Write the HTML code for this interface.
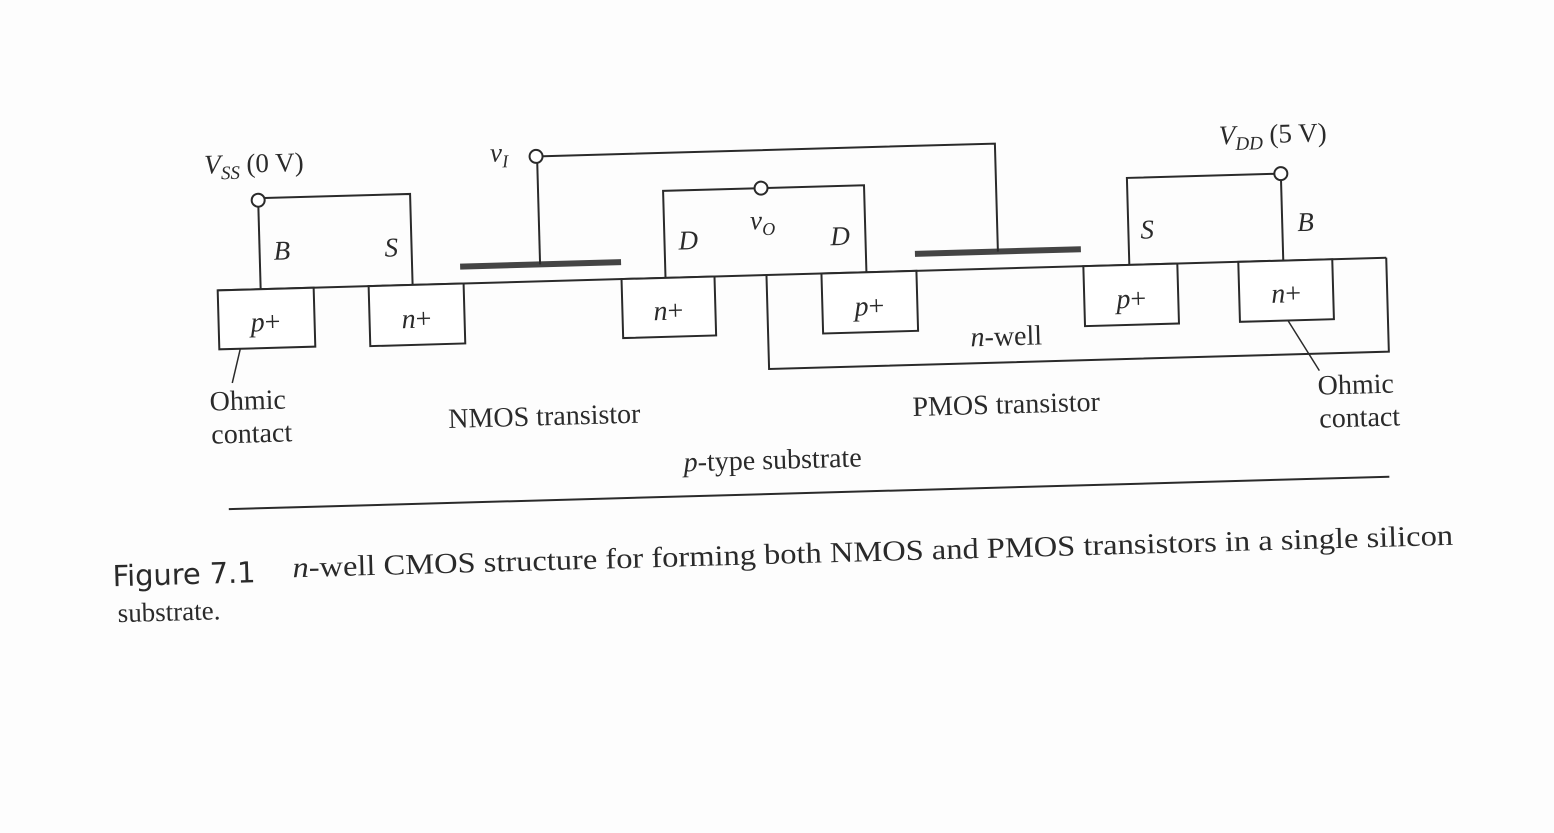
<!DOCTYPE html>
<html><head><meta charset="utf-8"><style>
html,body{margin:0;padding:0;background:#fff;}
svg{display:block;}
text{font-family:"Liberation Serif",serif;fill:#2a2a2a;}
.i{font-style:italic;}
</style></head><body>
<svg width="1554" height="833" viewBox="0 0 1554 833" xmlns="http://www.w3.org/2000/svg">
<rect width="1554" height="833" fill="#fdfdfd"/>
<g transform="translate(5,1) rotate(-1.6 800 400)">
<g stroke="#2a2a2a" stroke-width="2" fill="none">
  <line x1="216" y1="273" x2="1385" y2="273"/>
  <rect x="216" y="273" width="96" height="59" fill="#fff"/>
  <rect x="367" y="273" width="95" height="60" fill="#fff"/>
  <rect x="620" y="273" width="93" height="59" fill="#fff"/>
  <polyline points="765,273 765,367 1385,367 1385,273"/>
  <rect x="820" y="273" width="95" height="60" fill="#fff"/>
  <rect x="1082" y="273" width="94" height="60" fill="#fff"/>
  <rect x="1237" y="273" width="94" height="60" fill="#fff"/>
  <line x1="459" y1="256" x2="620" y2="256" stroke="#444" stroke-width="6"/>
  <line x1="914" y1="256" x2="1080" y2="256" stroke="#444" stroke-width="6"/>
  <polyline points="259,273 259,190"/>
  <polyline points="265,182 411,182 411,273"/>
  <circle cx="259" cy="184" r="6.5" fill="#fff"/>
  <polyline points="539,256 539,154"/>
  <polyline points="545,148 997,148 997,256"/>
  <circle cx="538" cy="148" r="6.5" fill="#fff"/>
  <polyline points="664,273 664,186 865,186 865,273"/>
  <circle cx="762" cy="186" r="6.5" fill="#fff"/>
  <polyline points="1128,273 1128,186 1275,186"/>
  <polyline points="1282,273 1282,192"/>
  <circle cx="1282" cy="186" r="6.5" fill="#fff"/>
  <line x1="237" y1="332" x2="228" y2="366" stroke-width="1.5"/>
  <line x1="1285" y1="333" x2="1315" y2="384" stroke-width="1.5"/>
  <line x1="221" y1="492" x2="1382" y2="492"/>
</g>
<g font-size="27">
  <text x="206" y="156" class="i">V<tspan font-size="19" dy="6">SS</tspan><tspan dy="-6" font-style="normal"> (0 V)</tspan></text>
  <text x="492" y="152" class="i">v<tspan font-size="18" dy="6">I</tspan></text>
  <text x="750" y="227" class="i">v<tspan font-size="18" dy="6">O</tspan></text>
  <text x="1221" y="155" class="i">V<tspan font-size="19" dy="6">DD</tspan><tspan dy="-6" font-style="normal"> (5 V)</tspan></text>
  <text x="273" y="244" class="i">B</text>
  <text x="384" y="244" class="i">S</text>
  <text x="678" y="245" class="i">D</text>
  <text x="830" y="245" class="i">D</text>
  <text x="1140" y="247" class="i">S</text>
  <text x="1297" y="244" class="i">B</text>
  <g text-anchor="middle" font-size="28">
  <text x="263" y="315"><tspan class="i">p</tspan>+</text>
  <text x="414" y="316"><tspan class="i">n</tspan>+</text>
  <text x="666" y="315"><tspan class="i">n</tspan>+</text>
  <text x="867" y="316"><tspan class="i">p</tspan>+</text>
  <text x="1129" y="316"><tspan class="i">p</tspan>+</text>
  <text x="1284" y="315"><tspan class="i">n</tspan>+</text>
  <text x="1003" y="350"><tspan class="i">n</tspan>-well</text>
  <text x="243" y="393">Ohmic</text>
  <text x="246" y="426">contact</text>
  <text x="1351" y="408">Ohmic</text>
  <text x="1354" y="441">contact</text>
  <text x="539" y="417">NMOS transistor</text>
  <text x="1001" y="418">PMOS transistor</text>
  <text x="766" y="467"><tspan class="i">p</tspan>-type substrate</text>
  </g>
</g>
</g>
<g transform="rotate(-1.6 800 400)">
  <text x="108" y="567" font-size="29" style="font-family:'DejaVu Sans',sans-serif" textLength="143">Figure 7.1</text>
  <text x="288" y="563" font-size="29" textLength="1161" lengthAdjust="spacingAndGlyphs"><tspan class="i">n</tspan>-well CMOS structure for forming both NMOS and PMOS transistors in a single silicon</text>
  <text x="112" y="603" font-size="27">substrate.</text>
</g>
</svg>
</body></html>
